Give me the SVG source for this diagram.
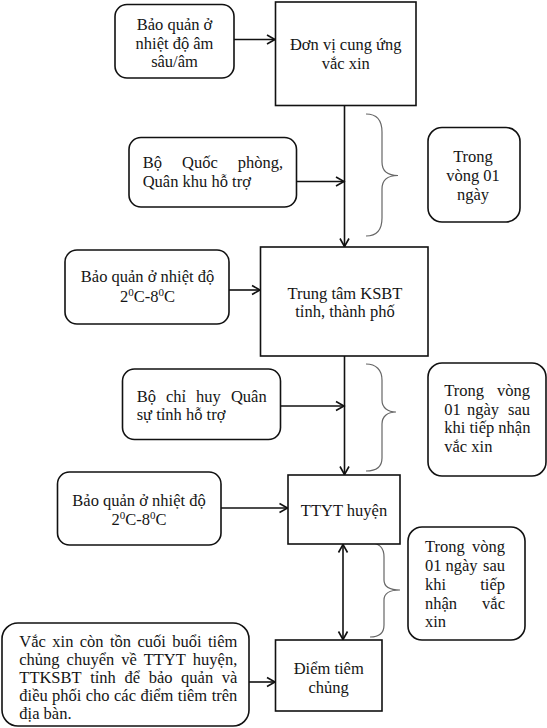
<svg xmlns="http://www.w3.org/2000/svg" width="547" height="728" viewBox="0 0 547 728">
<style>
.box{fill:#fff;stroke:#111;stroke-width:1.6}
.t{font-family:"Liberation Serif","Times New Roman",serif;font-size:16.5px;fill:#151515}
.c{text-anchor:middle}
.e{text-anchor:end}
.ln{stroke:#111;stroke-width:1.6;fill:none}
.br{stroke:#666;stroke-width:1.2;fill:none}
</style>
<defs>
<marker id="ah" markerUnits="userSpaceOnUse" markerWidth="12" markerHeight="12" viewBox="0 0 12 12" refX="10" refY="6" orient="auto-start-reverse">
<path d="M2,1.5 L10,6 L2,10.5" fill="none" stroke="#111" stroke-width="1.6"/>
</marker>
</defs>
<rect width="547" height="728" fill="#fff"/>

<g id="connectors">
<line class="ln" x1="234" y1="39.5" x2="275" y2="39.5" marker-end="url(#ah)"/>
<line class="ln" x1="344.5" y1="105.5" x2="344.5" y2="246.5" marker-end="url(#ah)"/>
<line class="ln" x1="296.5" y1="181.5" x2="344" y2="181.5" marker-end="url(#ah)"/>
<line class="ln" x1="229" y1="290" x2="260" y2="290" marker-end="url(#ah)"/>
<line class="ln" x1="344.5" y1="356" x2="344.5" y2="474.5" marker-end="url(#ah)"/>
<line class="ln" x1="280.5" y1="406" x2="344" y2="406" marker-end="url(#ah)"/>
<line class="ln" x1="221" y1="508" x2="287.5" y2="508" marker-end="url(#ah)"/>
<line class="ln" x1="343" y1="544.5" x2="343" y2="639.5" marker-start="url(#ah)" marker-end="url(#ah)"/>
<line class="ln" x1="249" y1="682" x2="275" y2="682" marker-end="url(#ah)"/>
<path class="br" d="M366,114 C376,114 382,120 382,132 L382,162 C382,171 388,175.5 398,175.5 C388,175.5 382,180 382,189 L382,218 C382,230 376,236 366,236"/>
<path class="br" d="M366,364 C376,364 382,370 382,380 L382,400 C382,408 388,412 396,412 C388,412 382,416 382,424 L382,458 C382,467 376,471 366,471"/>
<path class="br" d="M370,543 C379,543 384,548 384,557 L384,580 C384,587 390,590 400,590 C390,590 384,593 384,600 L384,625 C384,633 379,637 370,637"/>
</g>

<g id="n-bq-am">
<rect class="box" x="115" y="4.5" width="119" height="73.5" rx="12"/>
<text class="t c" x="174.5" y="30">Bảo quản ở</text>
<text class="t c" x="174.5" y="48.7">nhiệt độ âm</text>
<text class="t c" x="174.5" y="67.4">sâu/âm</text>
</g>

<g id="n-donvi">
<rect class="box" x="275.5" y="2" width="140.5" height="103.5"/>
<text class="t c" x="345.7" y="49.9">Đơn vị cung ứng</text>
<text class="t c" x="345.7" y="68.7">vắc xin</text>
</g>

<g id="n-bqp">
<rect class="box" x="129" y="137.5" width="167.5" height="69.5" rx="12"/>
<text class="t" x="142.7" y="168">Bộ</text>
<text class="t" x="182" y="168">Quốc</text>
<text class="t e" x="283" y="168">phòng,</text>
<text class="t" x="142.7" y="187">Quân khu hỗ trợ</text>
</g>

<g id="n-time1">
<rect class="box" x="428" y="127.5" width="92" height="94.5" rx="14"/>
<text class="t c" x="473" y="162.3">Trong</text>
<text class="t c" x="473" y="181.3">vòng 01</text>
<text class="t c" x="473" y="200">ngày</text>
</g>

<g id="n-bq-28a">
<rect class="box" x="65" y="250" width="164" height="74" rx="12"/>
<text class="t c" x="147.5" y="282">Bảo quản ở nhiệt độ</text>
<text class="t c" x="147.5" y="302">2<tspan dy="-6" font-size="11">0</tspan><tspan dy="6">C-8</tspan><tspan dy="-6" font-size="11">0</tspan><tspan dy="6">C</tspan></text>
</g>

<g id="n-ksbt">
<rect class="box" x="260.5" y="247" width="167.5" height="109"/>
<text class="t c" x="345" y="298.6">Trung tâm KSBT</text>
<text class="t c" x="345" y="317.4">tỉnh, thành phố</text>
</g>

<g id="n-bchqs">
<rect class="box" x="122.5" y="369" width="158" height="70.5" rx="12"/>
<text class="t" x="136.7" y="401.7">Bộ</text>
<text class="t" x="166" y="401.7">chỉ</text>
<text class="t" x="196" y="401.7">huy</text>
<text class="t e" x="266.7" y="401.7">Quân</text>
<text class="t" x="136.7" y="420.3">sự tỉnh hỗ trợ</text>
</g>

<g id="n-time2">
<rect class="box" x="428" y="363" width="118" height="113" rx="14"/>
<text class="t" x="444.3" y="396">Trong</text>
<text class="t e" x="530" y="396">vòng</text>
<text class="t" x="444.3" y="414.7">01</text>
<text class="t" x="467" y="414.7">ngày</text>
<text class="t e" x="530" y="414.7">sau</text>
<text class="t" x="444.3" y="433.4">khi tiếp nhận</text>
<text class="t" x="444.3" y="452">vắc xin</text>
</g>

<g id="n-bq-28b">
<rect class="box" x="57.5" y="472" width="163.5" height="73" rx="12"/>
<text class="t c" x="139" y="505.6">Bảo quản ở nhiệt độ</text>
<text class="t c" x="139" y="525">2<tspan dy="-6" font-size="11">0</tspan><tspan dy="6">C-8</tspan><tspan dy="-6" font-size="11">0</tspan><tspan dy="6">C</tspan></text>
</g>

<g id="n-ttyt">
<rect class="box" x="288" y="475" width="112" height="69"/>
<text class="t c" x="344" y="516.4">TTYT huyện</text>
</g>

<g id="n-time3">
<rect class="box" x="408" y="527" width="117" height="113" rx="14"/>
<text class="t" x="425" y="552">Trong</text>
<text class="t e" x="505" y="552">vòng</text>
<text class="t" x="425" y="571">01</text>
<text class="t" x="445.5" y="571">ngày</text>
<text class="t e" x="505" y="571">sau</text>
<text class="t" x="425" y="590">khi</text>
<text class="t e" x="505" y="590">tiếp</text>
<text class="t" x="425" y="608.5">nhận</text>
<text class="t e" x="505" y="608.5">vắc</text>
<text class="t" x="425" y="627">xin</text>
</g>

<g id="n-vacxin-ton">
<rect class="box" x="2" y="623" width="247" height="103" rx="16"/>
<text class="t" x="19.3" y="647">Vắc</text>
<text class="t" x="52.3" y="647">xin</text>
<text class="t" x="79.8" y="647">còn</text>
<text class="t" x="110" y="647">tồn</text>
<text class="t" x="137.5" y="647">cuối</text>
<text class="t" x="172.3" y="647">buổi</text>
<text class="t e" x="237.3" y="647">tiêm</text>
<text class="t" x="19.3" y="665">chủng</text>
<text class="t" x="66.6" y="665">chuyển</text>
<text class="t" x="121.2" y="665">về</text>
<text class="t" x="143.7" y="665">TTYT</text>
<text class="t e" x="237.3" y="665">huyện,</text>
<text class="t" x="19.3" y="683">TTKSBT</text>
<text class="t" x="90.2" y="683">tỉnh</text>
<text class="t" x="124.5" y="683">để</text>
<text class="t" x="148.7" y="683">bảo</text>
<text class="t" x="181.1" y="683">quản</text>
<text class="t e" x="237.3" y="683">và</text>
<text class="t" x="19.3" y="701">điều</text>
<text class="t" x="52.1" y="701">phối</text>
<text class="t" x="85.8" y="701">cho</text>
<text class="t" x="114" y="701">các</text>
<text class="t" x="140.4" y="701">điểm</text>
<text class="t" x="177.8" y="701">tiêm</text>
<text class="t e" x="237.3" y="701">trên</text>
<text class="t" x="19.3" y="719">địa bàn.</text>
</g>

<g id="n-diemtiem">
<rect class="box" x="275.5" y="640" width="106.5" height="71"/>
<text class="t c" x="328.7" y="673.7">Điểm tiêm</text>
<text class="t c" x="328.7" y="692.9">chủng</text>
</g>
</svg>
